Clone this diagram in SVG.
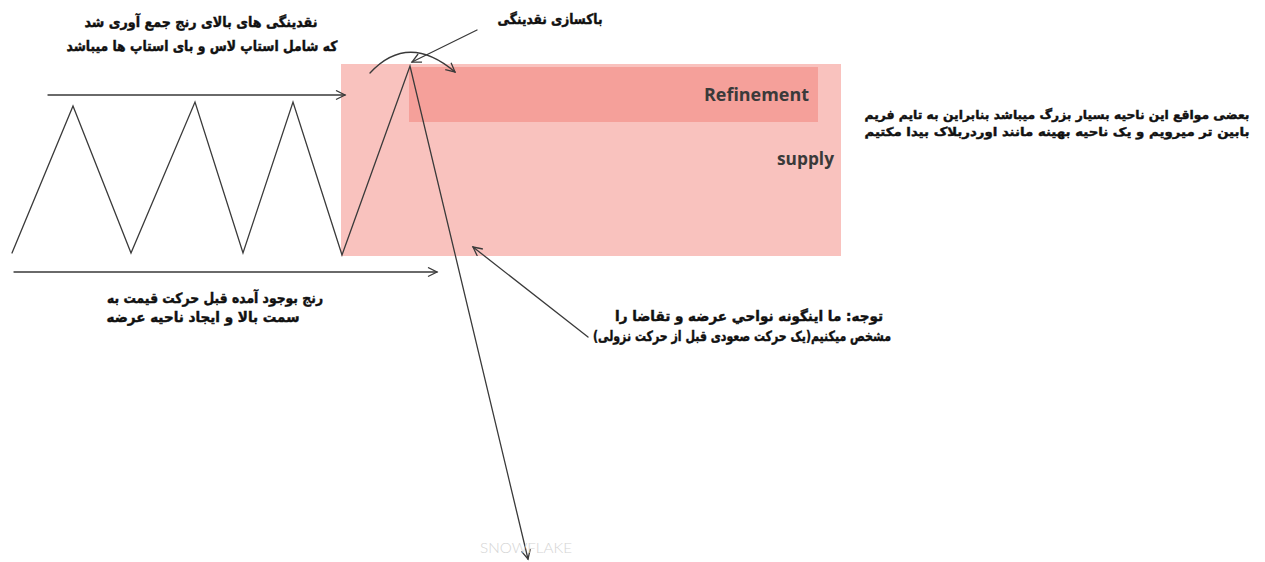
<svg xmlns="http://www.w3.org/2000/svg" width="1265" height="562" viewBox="0 0 1265 562">
<style>
.ln{fill:none;stroke:#3a3a3a;stroke-width:1.3;stroke-linecap:round;stroke-linejoin:miter}
.fa{font-family:"DejaVu Sans","Noto Sans",sans-serif;font-weight:bold;fill:#111;stroke:#111;stroke-width:0.45;direction:rtl}
.en{font-family:"Open Sans","DejaVu Sans",sans-serif;font-weight:bold;fill:#3a3a3a}
</style>
<defs>
<marker id="ah" markerUnits="userSpaceOnUse" markerWidth="14" markerHeight="14" refX="10" refY="5" orient="auto">
<path d="M1,0.5 L10,5 L1,9.5" fill="none" stroke="#3a3a3a" stroke-width="1.3"/>
</marker>
</defs>
<rect width="1265" height="562" fill="#fff"/>

<g id="supply-zone">
<rect x="341" y="64" width="500" height="192" fill="#f9c2be"/>
<text class="en" x="777" y="165" font-size="17" textLength="57" lengthAdjust="spacingAndGlyphs">supply</text>
</g>
<g id="refinement-zone">
<rect x="409" y="67" width="409" height="55" fill="#f5a09a"/>
<text class="en" x="704" y="101" font-size="17" textLength="105" lengthAdjust="spacingAndGlyphs">Refinement</text>
</g>

<g id="connectors">
<polyline id="price-path" class="ln" points="12,253 73,106 131,253 195,102 243,253 293,102 342,255 410,66 528,559" marker-end="url(#ah)"/>
<line id="range-top" class="ln" x1="48" y1="95" x2="345" y2="95" marker-end="url(#ah)"/>
<line id="range-bottom" class="ln" x1="14" y1="272" x2="437" y2="272" marker-end="url(#ah)"/>
<path id="sweep-arc" class="ln" d="M370,73 Q408,32 455,72" marker-end="url(#ah)"/>
<line id="sweep-pointer" class="ln" x1="477" y1="30" x2="412" y2="62" marker-end="url(#ah)"/>
<line id="note-pointer" class="ln" x1="588" y1="337" x2="473" y2="247" marker-end="url(#ah)"/>
</g>

<g id="label-liquidity">
<text class="fa" x="201" y="27" font-size="14" text-anchor="middle" textLength="233" lengthAdjust="spacingAndGlyphs">نقدینگی های بالای رنج جمع آوری شد</text>
<text class="fa" x="202" y="51" font-size="14" text-anchor="middle" textLength="271" lengthAdjust="spacingAndGlyphs">که شامل استاپ لاس و بای استاپ ها میباشد</text>
</g>
<g id="label-sweep">
<text class="fa" x="550" y="24" font-size="14" text-anchor="middle" textLength="105" lengthAdjust="spacingAndGlyphs">باکسازی نقدینگی</text>
</g>
<g id="label-refine-note">
<text class="fa" x="1057" y="119" font-size="12" text-anchor="middle" textLength="385" lengthAdjust="spacingAndGlyphs">بعضی مواقع این ناحیه بسیار بزرگ میباشد بنابراین به تایم فریم</text>
<text class="fa" x="1057" y="136" font-size="12" text-anchor="middle" textLength="385" lengthAdjust="spacingAndGlyphs">بابین تر میرویم و یک ناحیه بهینه مانند اوردربلاک بیدا مکتیم</text>
</g>
<g id="label-range">
<text class="fa" x="215" y="303" font-size="14" text-anchor="middle" textLength="216" lengthAdjust="spacingAndGlyphs">رنج بوجود آمده قبل حرکت قیمت به</text>
<text class="fa" x="203" y="322" font-size="14" text-anchor="middle" textLength="193" lengthAdjust="spacingAndGlyphs">سمت بالا  و ایجاد ناحیه عرضه</text>
</g>
<g id="label-note">
<text class="fa" x="749" y="321" font-size="14" text-anchor="middle" textLength="268" lengthAdjust="spacingAndGlyphs">توجه: ما اینگونه نواحي عرضه و تقاضا را</text>
<text class="fa" x="742" y="341" font-size="14" text-anchor="middle" textLength="298" lengthAdjust="spacingAndGlyphs">مشخص میکنیم(یک حرکت صعودی قبل از حرکت نزولی)</text>
</g>
<g id="watermark">
<text x="526" y="553" font-family="Lato,'Open Sans',sans-serif" font-weight="300" font-size="14" fill="#d4d4d4" text-anchor="middle" textLength="92" lengthAdjust="spacingAndGlyphs">SNOWFLAKE</text>
</g>
</svg>
